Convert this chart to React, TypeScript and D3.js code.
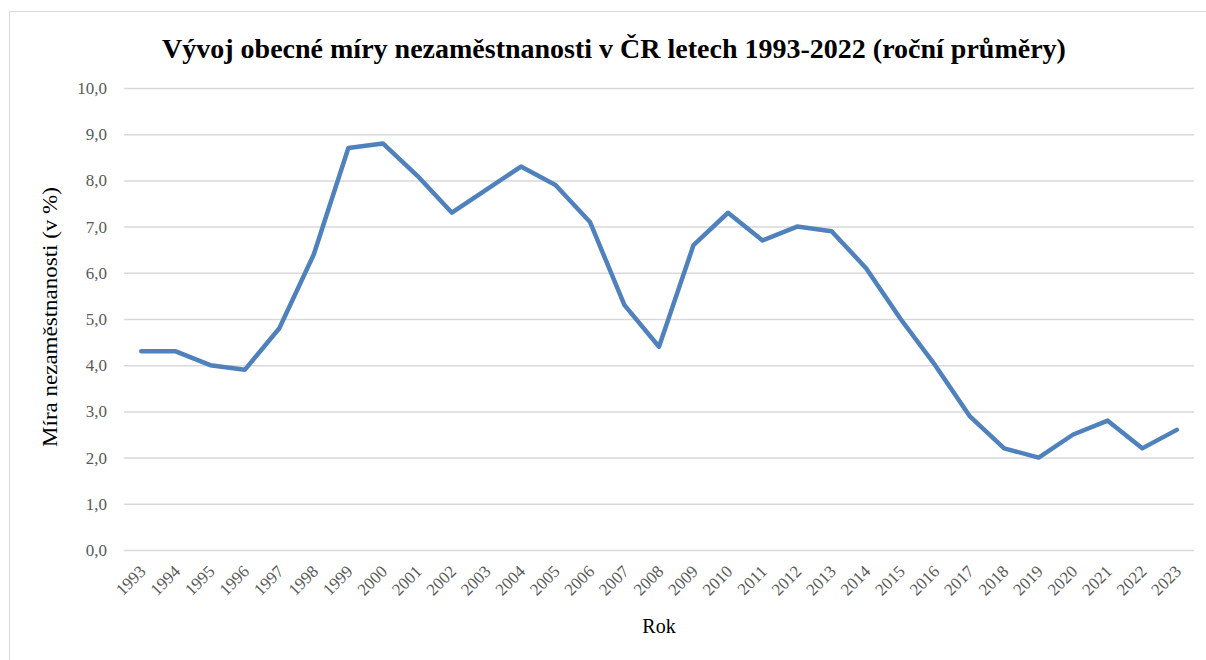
import React, { useRef, useEffect } from "react";
import * as d3 from "d3";

const YEARS = [
  "1993", "1994", "1995", "1996", "1997", "1998", "1999", "2000", "2001", "2002",
  "2003", "2004", "2005", "2006", "2007", "2008", "2009", "2010", "2011", "2012",
  "2013", "2014", "2015", "2016", "2017", "2018", "2019", "2020", "2021", "2022", "2023",
];
const RATES = [
  4.3, 4.3, 4.0, 3.9, 4.8, 6.4, 8.7, 8.8, 8.1, 7.3,
  7.8, 8.3, 7.9, 7.1, 5.3, 4.4, 6.6, 7.3, 6.7, 7.0,
  6.9, 6.1, 5.0, 4.0, 2.9, 2.2, 2.0, 2.5, 2.8, 2.2, 2.6,
];
const Y_TICKS = [0, 1, 2, 3, 4, 5, 6, 7, 8, 9, 10];

const TITLE = "Vývoj obecné míry nezaměstnanosti v ČR letech 1993-2022 (roční průměry)";
const Y_LABEL = "Míra nezaměstnanosti (v %)";
const X_LABEL = "Rok";

const W = 1206, H = 660;
const FONT = "Liberation Serif, DejaVu Serif, serif";

export default function App() {
  const svgRef = useRef<SVGSVGElement>(null);

  useEffect(() => {
    const margin = { top: 88, right: 12, bottom: 110, left: 124 };
    const plotRight = W - margin.right;
    const plotBottom = H - margin.bottom;

    const svg = d3.select(svgRef.current);
    svg.selectAll("*").remove();

    // rámeček grafu
    svg.append("rect")
      .attr("x", 9.5).attr("y", 11.5)
      .attr("width", W).attr("height", H)
      .attr("fill", "#fff")
      .attr("stroke", "#d9d9d9");

    const x = d3.scalePoint<string>()
      .domain(YEARS)
      .range([margin.left, plotRight])
      .padding(0.5);

    const y = d3.scaleLinear()
      .domain([0, 10])
      .range([plotBottom, margin.top]);

    // mřížka + osa Y
    svg.append("g")
      .attr("transform", `translate(${margin.left},0)`)
      .call(d3.axisLeft(y).tickValues(Y_TICKS)
        .tickSize(-(plotRight - margin.left))
        .tickPadding(17)
        .tickFormat(d => d3.format(".1f")(d as number).replace(".", ",")))
      .call(g => g.select(".domain").remove())
      .call(g => g.selectAll(".tick line").attr("stroke", "#d9d9d9").attr("stroke-width", 1.5))
      .call(g => g.selectAll(".tick text")
        .attr("fill", "#595959")
        .attr("font-size", 17)
        .attr("font-family", FONT));

    // osa X
    svg.append("g")
      .selectAll("text")
      .data(YEARS)
      .join("text")
      .attr("transform", d => `translate(${(x(d) as number) - 3},${plotBottom + 14}) rotate(-45)`)
      .attr("text-anchor", "end")
      .attr("dy", "0.7em")
      .attr("fill", "#595959")
      .attr("font-size", 17)
      .attr("font-family", FONT)
      .text(d => d);

    const line = d3.line<number>()
      .x((_, i) => x(YEARS[i]) as number)
      .y(d => y(d));

    svg.append("path")
      .datum(RATES)
      .attr("d", line)
      .attr("fill", "none")
      .attr("stroke", "#4f81bd")
      .attr("stroke-width", 4.5)
      .attr("stroke-linejoin", "round")
      .attr("stroke-linecap", "round");

    svg.append("text")
      .attr("x", 614).attr("y", 58)
      .attr("text-anchor", "middle")
      .attr("font-size", 28)
      .attr("font-weight", 700)
      .attr("font-family", FONT)
      .attr("fill", "#000")
      .text(TITLE);

    svg.append("text")
      .attr("transform", `translate(57,${(margin.top + plotBottom) / 2 - 2}) rotate(-90) scale(1.15,1)`)
      .attr("text-anchor", "middle")
      .attr("font-size", 20)
      .attr("font-family", FONT)
      .attr("fill", "#000")
      .text(Y_LABEL);

    svg.append("text")
      .attr("x", 659).attr("y", 633)
      .attr("text-anchor", "middle")
      .attr("font-size", 20)
      .attr("font-family", FONT)
      .attr("fill", "#000")
      .text(X_LABEL);
  }, []);

  return (
    <svg
      ref={svgRef}
      width={W}
      height={H}
      style={{ position: "absolute", left: 0, top: 0, display: "block", background: "#fff" }}
    />
  );
}
